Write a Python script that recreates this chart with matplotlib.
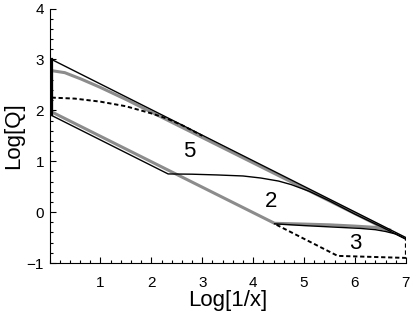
import numpy as np
import matplotlib
matplotlib.use("Agg")
import matplotlib.pyplot as plt
from matplotlib.ticker import MultipleLocator

plt.rcParams['font.family'] = ['Liberation Sans', 'DejaVu Sans']

# outer black line (upper boundary)
upper_x = [0.04, 7.0]
upper_y = [3.0, -0.5]
# left edge
left_x = [0.04, 0.04]
left_y = [3.0, 1.9]
# region 5 lower boundary
r5_x = [0.04, 2.33, 2.8, 3.3, 3.8, 4.15, 4.5, 4.75, 5.1, 5.5, 6.0, 6.5, 7.0]
r5_y = [1.9, 0.75, 0.745, 0.73, 0.71, 0.67, 0.61, 0.54, 0.41, 0.22, -0.04, -0.28, -0.53]
# grey loop
grey_x = [6.68, 1.5, 1.0, 0.62, 0.3, 0.04, 0.04, 4.42, 5.0, 5.5, 6.0, 6.4, 6.68]
grey_y = [-0.37, 2.215, 2.45, 2.615, 2.74, 2.78, 1.97, -0.22, -0.235, -0.25, -0.275, -0.30, -0.35]
# region 2 black boundary
r2_x = [4.42, 5.0, 5.5, 6.1, 6.4, 6.6, 6.8, 7.0]
r2_y = [-0.23, -0.265, -0.29, -0.32, -0.345, -0.38, -0.43, -0.53]
# dashed curves
dash_top_x = [0.04, 0.5, 1.0, 1.5, 2.0, 2.3, 2.6, 3.0]
dash_top_y = [2.25, 2.23, 2.17, 2.08, 1.94, 1.84, 1.71, 1.50]
dash_bot_x = [4.46, 5.66, 7.0, 7.0]
dash_bot_y = [-0.25, -0.86, -0.90, -0.52]

labels = ['5', '2', '3']
label_x = [2.74, 4.36, 6.01]
label_y = [1.19, 0.21, -0.61]

fig = plt.figure(figsize=(4.15, 3.16), dpi=100)
ax = fig.add_axes([0.1193, 0.1677, 0.8587, 0.8053])

ax.plot(grey_x, grey_y, color='#8c8c8c', lw=2.2, solid_joinstyle='miter')
ax.plot(dash_top_x, dash_top_y, color='black', lw=1.4, ls=(0, (2.2, 1.4)))
ax.plot(dash_bot_x, dash_bot_y, color='black', lw=1.4, ls=(0, (2.2, 1.4)))
ax.plot(upper_x, upper_y, color='black', lw=1.0)
ax.plot(r5_x, r5_y, color='black', lw=1.0)
ax.plot(r2_x, r2_y, color='black', lw=1.0)
ax.plot(left_x, left_y, color='black', lw=1.6)

for s, tx, ty in zip(labels, label_x, label_y):
    ax.text(tx, ty, s, fontsize=16, ha='center', va='center')

ax.set_xlim(0, 7)
ax.set_ylim(-1, 4)
ax.xaxis.set_major_locator(MultipleLocator(1))
ax.xaxis.set_minor_locator(MultipleLocator(0.2))
ax.yaxis.set_major_locator(MultipleLocator(1))
ax.yaxis.set_minor_locator(MultipleLocator(0.2))
ax.set_xticks([1, 2, 3, 4, 5, 6, 7])
ax.set_xticklabels(['1', '2', '3', '4', '5', '6', '7'])
ax.spines['top'].set_visible(False)
ax.spines['right'].set_visible(False)
ax.tick_params(which='both', direction='in', labelsize=11, width=0.8)
ax.tick_params(which='major', length=4)
ax.tick_params(which='minor', length=2)
ax.tick_params(axis='x', pad=9)
ax.tick_params(axis='y', pad=4)

ax.set_xlabel('Log[1/x]', fontsize=16, labelpad=0)
ax.set_ylabel('Log[Q]', fontsize=16, labelpad=2)

fig.savefig('out.png', dpi=100)
